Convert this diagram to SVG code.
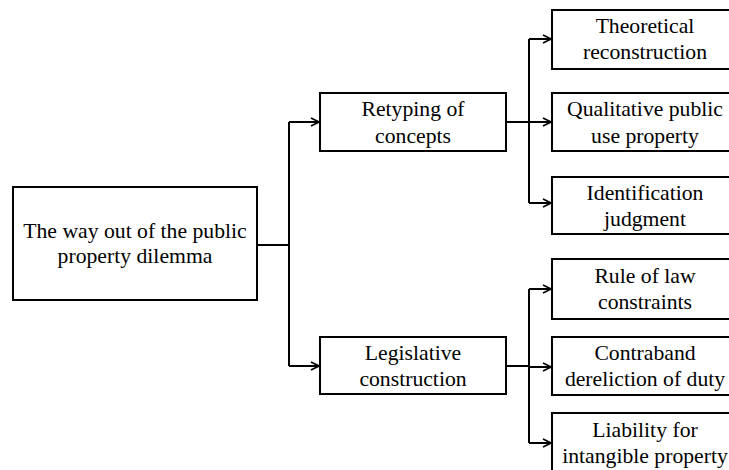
<svg xmlns="http://www.w3.org/2000/svg" width="729" height="470" viewBox="0 0 729 470">
<style>
.box{fill:#fff;stroke:#000;stroke-width:2}
.t{font-family:"Liberation Serif","Times New Roman",serif;font-size:21.7px;fill:#000;text-anchor:middle}
.c{fill:none;stroke:#000;stroke-width:2}
</style>
<defs>
<marker id="ah" viewBox="0 0 10 10" refX="9" refY="5" markerWidth="10" markerHeight="10" markerUnits="userSpaceOnUse" orient="auto">
<path d="M1,1 L9,5 L1,9" fill="none" stroke="#000" stroke-width="1.6"/>
</marker>
</defs>
<rect width="729" height="470" fill="#fff"/>
<g id="connectors">
<path class="c" d="M257,245 H289"/>
<path class="c" d="M289,122 V366"/>
<path class="c" d="M289,122 H319" marker-end="url(#ah)"/>
<path class="c" d="M289,366 H319" marker-end="url(#ah)"/>
<path class="c" d="M506,122 H529"/>
<path class="c" d="M529,39 V203"/>
<path class="c" d="M529,39 H551" marker-end="url(#ah)"/>
<path class="c" d="M529,122 H551" marker-end="url(#ah)"/>
<path class="c" d="M529,203 H551" marker-end="url(#ah)"/>
<path class="c" d="M506,366 H529"/>
<path class="c" d="M529,289 V443"/>
<path class="c" d="M529,289 H551" marker-end="url(#ah)"/>
<path class="c" d="M529,367 H551" marker-end="url(#ah)"/>
<path class="c" d="M529,443 H551" marker-end="url(#ah)"/>
</g>
<g id="root">
<rect class="box" x="13" y="187" width="244" height="113"/>
<text class="t" x="135" y="238">The way out of the public</text>
<text class="t" x="135" y="263">property dilemma</text>
</g>
<g id="retyping">
<rect class="box" x="320" y="93" width="186" height="58"/>
<text class="t" x="413" y="116">Retyping of</text>
<text class="t" x="413" y="143">concepts</text>
</g>
<g id="legislative">
<rect class="box" x="320" y="337" width="186" height="57"/>
<text class="t" x="413" y="360">Legislative</text>
<text class="t" x="413" y="386">construction</text>
</g>
<g id="theoretical">
<rect class="box" x="552" y="10" width="186" height="59"/>
<text class="t" x="645" y="33">Theoretical</text>
<text class="t" x="645" y="59">reconstruction</text>
</g>
<g id="qualitative">
<rect class="box" x="552" y="93" width="186" height="58"/>
<text class="t" x="645" y="116">Qualitative public</text>
<text class="t" x="645" y="143">use property</text>
</g>
<g id="identification">
<rect class="box" x="552" y="177" width="186" height="57"/>
<text class="t" x="645" y="200">Identification</text>
<text class="t" x="645" y="226">judgment</text>
</g>
<g id="ruleoflaw">
<rect class="box" x="552" y="259" width="186" height="60"/>
<text class="t" x="645" y="283">Rule of law</text>
<text class="t" x="645" y="309">constraints</text>
</g>
<g id="contraband">
<rect class="box" x="552" y="337" width="186" height="58"/>
<text class="t" x="645" y="360">Contraband</text>
<text class="t" x="645" y="386">dereliction of duty</text>
</g>
<g id="liability">
<rect class="box" x="552" y="413" width="186" height="70"/>
<text class="t" x="645" y="437">Liability for</text>
<text class="t" x="645" y="463">intangible property</text>
</g>
</svg>
